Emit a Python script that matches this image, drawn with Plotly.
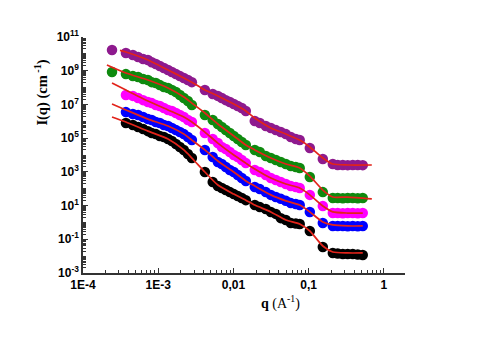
import plotly.graph_objects as go

# ---- data ----
q = [2.43e-4, 3.72e-4, 4.6e-4, 5.4e-4, 6.3e-4, 7.3e-4, 8.2e-4, 9.3e-4, 1.05e-3, 1.19e-3,
     1.35e-3, 1.52e-3, 1.72e-3, 1.94e-3, 2.19e-3, 2.48e-3, 2.8e-3,
     4.17e-3, 5.3e-3, 6.2e-3, 7.0e-3, 7.9e-3, 8.95e-3, 1.01e-2, 1.14e-2, 1.29e-2, 1.46e-2,
     1.92e-2, 2.24e-2, 2.69e-2, 3.14e-2, 3.66e-2, 4.26e-2, 4.97e-2, 5.78e-2, 6.74e-2, 7.6e-2,
     0.1035, 0.154, 0.209, 0.243, 0.284, 0.330, 0.385, 0.449, 0.523]

I_black = [None, 7.9e5, 6.0e5, 4.6e5, 3.5e5, 2.6e5, 2.0e5, 1.74e5, 1.35e5, 1.17e5,
           8.9e4, 6.8e4, 4.5e4, 3.0e4, 2.0e4, 1.15e4, 6.6e3,
           9.8e2, 2.5e2, 1.45e2, 1.1e2, 83, 63, 48, 37, 28, 21,
           10.7, 8.1, 6.3, 4.2, 3.2, 1.8, 1.4, 0.93, 0.87, 0.81,
           0.31, 0.035, 0.0155, 0.0145, 0.0135, 0.0135, 0.0135, 0.0126, 0.0117]

I_blue = [None, 3.5e6, 2.7e6, 2.35e6, 1.8e6, 1.35e6, 1.18e6, 9.1e5, 7.9e5, 6.0e5,
          5.2e5, 4.0e5, 3.0e5, 2.3e5, 1.74e5, 1.17e5, 7.7e4,
          2.0e4, 7.6e3, 3.8e3, 2.9e3, 1.95e3, 1.3e3, 9.8e2, 6.5e2, 4.3e2, 2.9e2,
          1.26e2, 95, 63, 43, 32, 25, 19, 14, 12.3, 10.7,
          4.2, 0.93, 0.62, 0.62, 0.62, 0.6, 0.62, 0.6, 0.62]

I_magenta = [None, 3.6e7, 3.2e7, 2.4e7, 1.8e7, 1.38e7, 1.2e7, 9.2e6, 8.0e6, 6.1e6,
             4.7e6, 4.1e6, 3.1e6, 2.35e6, 1.8e6, 1.18e6, 9.1e5,
             2.0e5, 8.9e4, 5.1e4, 3.0e4, 2.25e4, 1.5e4, 1.0e4, 7.6e3, 5.0e3, 3.3e3,
             1.3e3, 9.8e2, 6.5e2, 4.3e2, 3.3e2, 2.5e2, 1.9e2, 1.45e2, 1.26e2, 1.1e2,
             43, 9.4, 3.6, 3.6, 3.5, 3.6, 3.6, 3.5, 3.6]

I_green = [8.3e8, 6.3e8, 4.8e8, 4.2e8, 3.2e8, 2.8e8, 2.1e8, 1.86e8, 1.4e8, 1.07e8,
           9.4e7, 7.1e7, 5.5e7, 3.6e7, 2.4e7, 1.6e7, 9.2e6,
           2.35e6, 1.18e6, 6.9e5, 4.6e5, 3.0e5, 2.0e5, 1.35e5, 8.9e4, 5.9e4, 3.9e4,
           2.0e4, 1.5e4, 8.7e3, 6.6e3, 5.0e3, 3.8e3, 2.9e3, 2.2e3, 1.95e3, 1.7e3,
           4.9e2, 63, 28, 28, 27, 28, 28, 27, 28]

I_purple = [1.7e10, 1.12e10, 8.5e9, 6.5e9, 4.9e9, 4.3e9, 3.2e9, 2.5e9, 1.9e9, 1.45e9,
            1.1e9, 8.3e8, 6.3e8, 4.8e8, 3.7e8, 2.8e8, 2.1e8,
            7.1e7, 4.2e7, 3.2e7, 2.4e7, 1.8e7, 1.38e7, 1.05e7, 8.0e6, 6.1e6, 4.1e6,
            1.04e6, 7.9e5, 5.2e5, 4.0e5, 3.0e5, 2.3e5, 1.74e5, 1.17e5, 8.9e4, 7.7e4,
            2.6e4, 5.8e3, 2.9e3, 2.55e3, 2.55e3, 2.5e3, 2.55e3, 2.55e3, 2.5e3]

# fitted curves
q_fit_core = [3.72e-4, 7.3e-4, 1.35e-3, 2.19e-3, 2.8e-3, 4.17e-3, 6.2e-3, 1.01e-2, 1.46e-2,
              1.92e-2, 3.14e-2, 4.97e-2, 7.6e-2, 0.1035, 0.154, 0.209, 0.330]

q_fit_black = [2.43e-4] + q_fit_core + [0.523]
fit_black = [1.8e6, 9.1e5, 2.6e5, 8.9e4, 2.0e4, 6.6e3, 9.8e2, 1.66e2, 48, 21,
             10.7, 4.2, 1.4, 0.81, 0.31, 0.04, 0.0177, 0.0155, 0.0155]

q_fit_blue = [2.43e-4] + q_fit_core + [0.523]
fit_blue = [1.05e7, 4.7e6, 1.35e6, 5.2e5, 1.74e5, 7.7e4, 2.0e4, 4.4e3, 9.8e2, 2.9e2,
            1.45e2, 43, 19, 10.7, 4.2, 1.06, 0.71, 0.62, 0.62]

q_fit_magenta = [2.43e-4] + q_fit_core + [0.523]
fit_magenta = [1.86e8, 7.1e7, 1.6e7, 4.7e6, 1.8e6, 9.1e5, 2.3e5, 5.1e4, 1.0e4, 3.3e3,
               1.48e3, 4.3e2, 1.9e2, 1.1e2, 43, 9.4, 4.2, 3.6, 3.6]

q_fit_green = [2.08e-4] + q_fit_core + [0.69]
fit_green = [2.2e9, 7.3e8, 2.8e8, 9.4e7, 2.75e7, 1.2e7, 3.1e6, 6.9e5, 1.35e5, 3.9e4,
             2.0e4, 6.6e3, 2.9e3, 1.7e3, 5.6e2, 83, 32, 32, 25]

q_fit_purple = [3.1e-4] + q_fit_core + [0.69]
fit_purple = [1.6e10, 1.28e10, 4.3e9, 1.1e9, 3.7e8, 2.1e8, 7.1e7, 3.2e7, 1.05e7, 4.1e6,
              1.56e6, 4.0e5, 1.74e5, 7.7e4, 3.0e4, 6.6e3, 2.9e3, 2.55e3, 2.55e3]

x_tickvals = [1e-4, 1e-3, 1e-2, 1e-1, 1]
x_ticktext = ["1E-4", "1E-3", "0,01", "0,1", "1"]
y_exponents = [-3, -1, 1, 3, 5, 7, 9, 11]
minor_mult = [2, 3, 4, 5, 6, 7, 8, 9]

# ---- figure ----
series = [
    (I_black, "#000000", q_fit_black, fit_black),
    (I_blue, "#0000ff", q_fit_blue, fit_blue),
    (I_magenta, "#ff00ff", q_fit_magenta, fit_magenta),
    (I_green, "#0f8a0f", q_fit_green, fit_green),
    (I_purple, "#8e1a8e", q_fit_purple, fit_purple),
]

fig = go.Figure()
for I, col, qf, fv in series:
    fig.add_trace(go.Scatter(x=q, y=I, mode="markers",
                             marker=dict(color=col, size=10.5, line=dict(width=0)),
                             showlegend=False))
for I, col, qf, fv in series:
    fig.add_trace(go.Scatter(x=qf, y=fv, mode="lines",
                             line=dict(color="#e2231a", width=1.7, shape="spline", smoothing=0.6),
                             showlegend=False))

x_minor = [m * 10.0 ** e for e in range(-4, 1) for m in minor_mult]
y_minor = [m * 10.0 ** e for e in range(-3, 11) for m in [1] + minor_mult]

tickfont = dict(family="Liberation Sans, Arial", size=12, color="black")
fig.update_xaxes(type="log", range=[-4, 0.28], tickvals=x_tickvals,
                 ticktext=["<b>%s</b>" % t for t in x_ticktext],
                 ticks="inside", ticklen=5, tickwidth=1, tickcolor="#333",
                 minor=dict(ticks="inside", ticklen=3, tickcolor="#333", showgrid=False,
                            tickmode="array", tickvals=x_minor),
                 showline=True, linecolor="#333", linewidth=1.5,
                 showgrid=False, zeroline=False, tickfont=tickfont)
fig.update_yaxes(type="log", range=[-3, 11],
                 tickvals=[10.0 ** e for e in y_exponents],
                 ticktext=["<b>10<sup>%d</sup></b>" % e for e in y_exponents],
                 ticks="inside", ticklen=5, tickwidth=1, tickcolor="#333",
                 minor=dict(ticks="inside", ticklen=3, tickcolor="#333", showgrid=False,
                            tickmode="array", tickvals=y_minor),
                 showline=True, linecolor="#333", linewidth=1.5,
                 showgrid=False, zeroline=False, tickfont=tickfont)

fig.add_annotation(text="<b>I(q) (cm<sup> -1</sup>)</b>", xref="paper", yref="paper",
                   x=-0.13, y=0.765, xanchor="center", yanchor="middle",
                   textangle=-90, showarrow=False,
                   font=dict(family="Liberation Serif, Times New Roman", size=14.5, color="black"))
fig.add_annotation(text="<b>q</b> (A<sup>-1</sup>)", xref="paper", yref="paper",
                   x=0.612, y=-0.127, xanchor="center", yanchor="middle", showarrow=False,
                   font=dict(family="Liberation Serif, Times New Roman", size=14, color="black"))

fig.update_layout(width=477, height=358, plot_bgcolor="white", paper_bgcolor="white",
                  margin=dict(l=75, r=80, t=29, b=93))
fig.write_html("out.html")
